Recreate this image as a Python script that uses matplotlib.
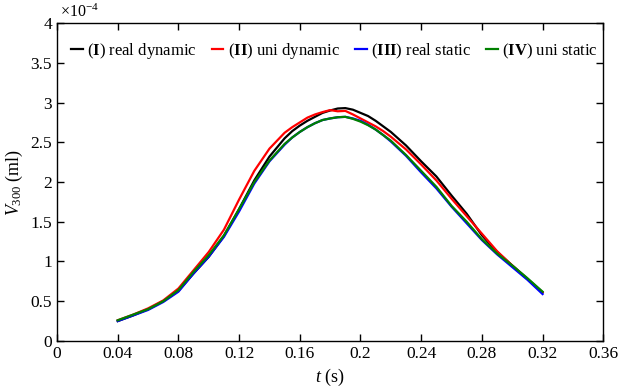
import numpy as np
import matplotlib
matplotlib.use('Agg')
import matplotlib.pyplot as plt
from matplotlib.ticker import FuncFormatter

# time (s) and volume values in units of 1e-4 ml
t = [0.04, 0.05, 0.06, 0.07, 0.08, 0.09, 0.10, 0.11, 0.12, 0.13, 0.14, 0.15, 0.155,
     0.16, 0.165, 0.17, 0.175, 0.18, 0.185, 0.19, 0.195, 0.20, 0.205, 0.21, 0.215,
     0.22, 0.23, 0.24, 0.25, 0.26, 0.27, 0.28, 0.29, 0.30, 0.31, 0.32]

real_dynamic = [0.25, 0.32, 0.40, 0.50, 0.63, 0.85, 1.06, 1.32, 1.66, 2.02, 2.32, 2.55, 2.64,
                2.71, 2.77, 2.82, 2.87, 2.90, 2.925, 2.93, 2.91, 2.87, 2.83, 2.77, 2.70,
                2.63, 2.46, 2.26, 2.07, 1.83, 1.60, 1.33, 1.12, 0.95, 0.78, 0.61]
uni_dynamic = [0.26, 0.33, 0.41, 0.51, 0.66, 0.89, 1.12, 1.40, 1.78, 2.14, 2.42, 2.62, 2.69,
               2.75, 2.81, 2.85, 2.88, 2.905, 2.89, 2.895, 2.85, 2.80, 2.75, 2.70, 2.64,
               2.57, 2.41, 2.22, 2.02, 1.79, 1.57, 1.35, 1.13, 0.95, 0.78, 0.61]
real_static = [0.25, 0.32, 0.39, 0.49, 0.62, 0.85, 1.06, 1.31, 1.63, 1.98, 2.26, 2.47, 2.56,
               2.63, 2.69, 2.74, 2.78, 2.80, 2.815, 2.82, 2.80, 2.77, 2.72, 2.66, 2.59,
               2.51, 2.33, 2.12, 1.92, 1.69, 1.48, 1.27, 1.09, 0.93, 0.77, 0.59]
uni_static = [0.26, 0.33, 0.40, 0.50, 0.64, 0.87, 1.08, 1.33, 1.66, 2.00, 2.27, 2.48, 2.56,
              2.63, 2.69, 2.74, 2.78, 2.80, 2.815, 2.82, 2.795, 2.76, 2.715, 2.66, 2.59,
              2.52, 2.34, 2.14, 1.94, 1.70, 1.50, 1.28, 1.10, 0.95, 0.79, 0.62]

labels = [r'($\mathbf{I}$) real dynamic', r'($\mathbf{II}$) uni dynamic',
          r'($\mathbf{III}$) real static', r'($\mathbf{IV}$) uni static']
colors = ['black', 'red', 'blue', 'green']

plt.rcParams['font.family'] = 'Liberation Serif'
plt.rcParams['mathtext.fontset'] = 'custom'
plt.rcParams['mathtext.rm'] = 'Liberation Serif'
plt.rcParams['mathtext.it'] = 'Liberation Serif:italic'
plt.rcParams['mathtext.bf'] = 'Liberation Serif:bold'

fig = plt.figure(figsize=(6.2, 3.91), dpi=100)
ax = fig.add_axes([0.092, 0.128, 0.881, 0.813])

for ys, c, lab in zip([real_dynamic, uni_dynamic, real_static, uni_static], colors, labels):
    ax.plot(t, ys, color=c, lw=1.6, label=lab)

ax.set_xlim(0, 0.36)
ax.set_ylim(0, 4)
ax.set_xticks(np.arange(0, 0.361, 0.04))
ax.set_yticks(np.arange(0, 4.01, 0.5))
fmt = FuncFormatter(lambda v, p: '%g' % round(v, 3))
ax.xaxis.set_major_formatter(fmt)
ax.yaxis.set_major_formatter(fmt)
ax.tick_params(direction='in', top=True, right=True, length=5, width=1, labelsize=12.5)
for s in ax.spines.values():
    s.set_linewidth(1)

ax.text(0.005, 1.008, r'$\times10^{-4}$', transform=ax.transAxes, fontsize=11.5,
        ha='left', va='bottom')

ax.set_xlabel(r'$t$ (s)', fontsize=13, labelpad=4)
ax.set_ylabel(r'$V_{300}$ (ml)', fontsize=13, labelpad=4)

ax.legend(loc='upper center', ncol=4, frameon=False, fontsize=12,
          handlelength=0.7, handletextpad=0.25, columnspacing=0.9,
          bbox_to_anchor=(0.508, 0.99))

fig.savefig('out.png', dpi=100)
